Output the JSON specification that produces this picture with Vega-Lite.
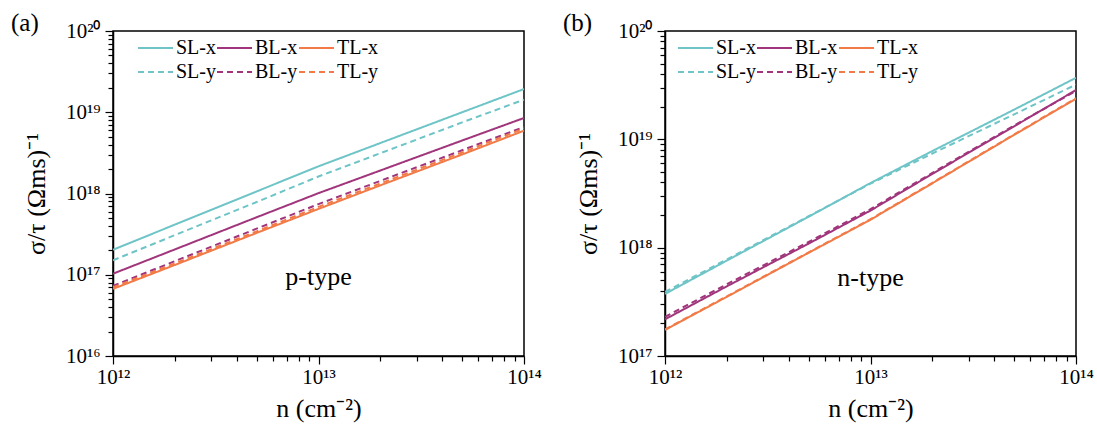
{
  "$schema": "https://vega.github.io/schema/vega-lite/v6.json",
  "autosize": {"type": "pad"},
  "padding": {"left": 10, "top": 10, "right": 5, "bottom": 3},
  "background": "white",
  "config": {
    "font": "Liberation Serif",
    "view": {"stroke": "black", "strokeWidth": 1.5},
    "axis": {
      "grid": false, "domainColor": "black", "domainWidth": 1.5,
      "tickColor": "black", "tickWidth": 1.2,
      "labelColor": "black", "titleColor": "black",
      "labelFont": "Liberation Serif", "titleFont": "Liberation Serif",
      "labelFontSize": 21, "titleFontSize": 26, "titleFontWeight": "normal",
      "labelOverlap": false, "labelFlush": false, "labelBound": false
    },
    "legend": {
      "labelFont": "Liberation Serif", "labelFontSize": 20, "labelColor": "black"
    },
    "title": {"font": "Liberation Serif", "fontSize": 25, "fontWeight": "normal", "color": "black"}
  },
  "datasets": {
    "pa": [
      {"n": 1e12, "v": 2.03e17, "s": "SL-x"}, {"n": 2e12, "v": 4.14e17, "s": "SL-x"}, {"n": 5e12, "v": 1.06e18, "s": "SL-x"}, {"n": 1e13, "v": 2.16e18, "s": "SL-x"}, {"n": 2e13, "v": 4.18e18, "s": "SL-x"}, {"n": 5e13, "v": 1.0e19, "s": "SL-x"}, {"n": 1e14, "v": 1.93e19, "s": "SL-x"},
      {"n": 1e12, "v": 1.03e17, "s": "BL-x"}, {"n": 2e12, "v": 2.05e17, "s": "BL-x"}, {"n": 5e12, "v": 5.1e17, "s": "BL-x"}, {"n": 1e13, "v": 1.01e18, "s": "BL-x"}, {"n": 2e13, "v": 1.92e18, "s": "BL-x"}, {"n": 5e13, "v": 4.49e18, "s": "BL-x"}, {"n": 1e14, "v": 8.5e18, "s": "BL-x"},
      {"n": 1e12, "v": 6.7e16, "s": "TL-x"}, {"n": 2e12, "v": 1.32e17, "s": "TL-x"}, {"n": 5e12, "v": 3.27e17, "s": "TL-x"}, {"n": 1e13, "v": 6.46e17, "s": "TL-x"}, {"n": 2e13, "v": 1.26e18, "s": "TL-x"}, {"n": 5e13, "v": 3.02e18, "s": "TL-x"}, {"n": 1e14, "v": 5.93e18, "s": "TL-x"},
      {"n": 1e12, "v": 1.51e17, "s": "SL-y"}, {"n": 2e12, "v": 3.07e17, "s": "SL-y"}, {"n": 5e12, "v": 7.85e17, "s": "SL-y"}, {"n": 1e13, "v": 1.62e18, "s": "SL-y"}, {"n": 2e13, "v": 3.13e18, "s": "SL-y"}, {"n": 5e13, "v": 7.5e18, "s": "SL-y"}, {"n": 1e14, "v": 1.43e19, "s": "SL-y"},
      {"n": 1e12, "v": 7.3e16, "s": "BL-y"}, {"n": 2e12, "v": 1.47e17, "s": "BL-y"}, {"n": 5e12, "v": 3.69e17, "s": "BL-y"}, {"n": 1e13, "v": 7.41e17, "s": "BL-y"}, {"n": 2e13, "v": 1.43e18, "s": "BL-y"}, {"n": 5e13, "v": 3.41e18, "s": "BL-y"}, {"n": 1e14, "v": 6.6e18, "s": "BL-y"},
      {"n": 1e12, "v": 7.0e16, "s": "TL-y"}, {"n": 2e12, "v": 1.38e17, "s": "TL-y"}, {"n": 5e12, "v": 3.42e17, "s": "TL-y"}, {"n": 1e13, "v": 6.84e17, "s": "TL-y"}, {"n": 2e13, "v": 1.33e18, "s": "TL-y"}, {"n": 5e13, "v": 3.2e18, "s": "TL-y"}, {"n": 1e14, "v": 6.3e18, "s": "TL-y"}
    ],
    "pb": [
      {"n": 1e12, "v": 3.74e17, "s": "SL-x"}, {"n": 2e12, "v": 7.6e17, "s": "SL-x"}, {"n": 5e12, "v": 1.93e18, "s": "SL-x"}, {"n": 1e13, "v": 3.95e18, "s": "SL-x"}, {"n": 2e13, "v": 7.8e18, "s": "SL-x"}, {"n": 5e13, "v": 1.88e19, "s": "SL-x"}, {"n": 1e14, "v": 3.7e19, "s": "SL-x"},
      {"n": 1e12, "v": 2.18e17, "s": "BL-x"}, {"n": 2e12, "v": 4.4e17, "s": "BL-x"}, {"n": 5e12, "v": 1.09e18, "s": "BL-x"}, {"n": 1e13, "v": 2.2e18, "s": "BL-x"}, {"n": 2e13, "v": 4.8e18, "s": "BL-x"}, {"n": 5e13, "v": 1.32e19, "s": "BL-x"}, {"n": 1e14, "v": 2.85e19, "s": "BL-x"},
      {"n": 1e12, "v": 1.74e17, "s": "TL-x"}, {"n": 2e12, "v": 3.52e17, "s": "TL-x"}, {"n": 5e12, "v": 8.97e17, "s": "TL-x"}, {"n": 1e13, "v": 1.81e18, "s": "TL-x"}, {"n": 2e13, "v": 3.93e18, "s": "TL-x"}, {"n": 5e13, "v": 1.1e19, "s": "TL-x"}, {"n": 1e14, "v": 2.37e19, "s": "TL-x"},
      {"n": 1e12, "v": 3.9e17, "s": "SL-y"}, {"n": 2e12, "v": 7.8e17, "s": "SL-y"}, {"n": 5e12, "v": 1.95e18, "s": "SL-y"}, {"n": 1e13, "v": 3.9e18, "s": "SL-y"}, {"n": 2e13, "v": 7.4e18, "s": "SL-y"}, {"n": 5e13, "v": 1.7e19, "s": "SL-y"}, {"n": 1e14, "v": 3.2e19, "s": "SL-y"},
      {"n": 1e12, "v": 2.3e17, "s": "BL-y"}, {"n": 2e12, "v": 4.6e17, "s": "BL-y"}, {"n": 5e12, "v": 1.13e18, "s": "BL-y"}, {"n": 1e13, "v": 2.27e18, "s": "BL-y"}, {"n": 2e13, "v": 4.9e18, "s": "BL-y"}, {"n": 5e13, "v": 1.34e19, "s": "BL-y"}, {"n": 1e14, "v": 2.8e19, "s": "BL-y"},
      {"n": 1e12, "v": 1.76e17, "s": "TL-y"}, {"n": 2e12, "v": 3.56e17, "s": "TL-y"}, {"n": 5e12, "v": 9.05e17, "s": "TL-y"}, {"n": 1e13, "v": 1.83e18, "s": "TL-y"}, {"n": 2e13, "v": 3.97e18, "s": "TL-y"}, {"n": 5e13, "v": 1.11e19, "s": "TL-y"}, {"n": 1e14, "v": 2.4e19, "s": "TL-y"}
    ],
    "ta": [{"n": 1e13, "v": 9.5e16, "t": "p-type"}],
    "tb": [{"n": 1e13, "v": 5.2e17, "t": "n-type"}]
  },
  "resolve": {
    "scale": {"x": "independent", "y": "independent", "color": "independent", "strokeDash": "independent"},
    "legend": {"color": "independent", "strokeDash": "independent"}
  },
  "bounds": "flush",
  "spacing": 141,
  "hconcat": [
    {
      "width": 411, "height": 325,
      "title": {"text": "(a)", "anchor": "start", "frame": "group", "dx": -102, "dy": 8, "offset": -28, "baseline": "alphabetic"},
      "layer": [
        {
          "data": {"name": "pa"},
          "mark": {"type": "line", "strokeWidth": 2, "clip": true},
          "encoding": {
            "x": {"field": "n", "type": "quantitative",
              "scale": {"type": "log", "domain": [1e12, 1e14], "nice": false},
              "axis": {
                "title": "n (cm⁻²)", "titlePadding": 8, "labelPadding": 2,
                "values": [1e12, 2e12, 3e12, 4e12, 5e12, 6e12, 7e12, 8e12, 9e12, 1e13, 2e13, 3e13, 4e13, 5e13, 6e13, 7e13, 8e13, 9e13, 1e14],
                "labelExpr": "abs(log(datum.value)/LN10 - round(log(datum.value)/LN10)) < 0.01 ? '10' + replace(replace(replace(replace(replace(replace(replace(replace(replace(replace(toString(round(log(datum.value)/LN10)),'0','⁰'),'1','¹'),'2','²'),'3','³'),'4','⁴'),'5','⁵'),'6','⁶'),'7','⁷'),'8','⁸'),'9','⁹') : ''",
                "tickSize": {"condition": {"test": "abs(log(datum.value)/LN10 - round(log(datum.value)/LN10)) < 0.01", "value": 8}, "value": 5}
              }},
            "y": {"field": "v", "type": "quantitative",
              "scale": {"type": "log", "domain": [1e16, 1e20], "nice": false},
              "axis": {
                "title": "σ/τ (Ωms)⁻¹", "titlePadding": 16, "labelPadding": 5,
                "values": [1e16, 2e16, 3e16, 4e16, 5e16, 6e16, 7e16, 8e16, 9e16, 1e17, 2e17, 3e17, 4e17, 5e17, 6e17, 7e17, 8e17, 9e17, 1e18, 2e18, 3e18, 4e18, 5e18, 6e18, 7e18, 8e18, 9e18, 1e19, 2e19, 3e19, 4e19, 5e19, 6e19, 7e19, 8e19, 9e19, 1e20],
                "labelExpr": "abs(log(datum.value)/LN10 - round(log(datum.value)/LN10)) < 0.01 ? '10' + replace(replace(replace(replace(replace(replace(replace(replace(replace(replace(toString(round(log(datum.value)/LN10)),'0','⁰'),'1','¹'),'2','²'),'3','³'),'4','⁴'),'5','⁵'),'6','⁶'),'7','⁷'),'8','⁸'),'9','⁹') : ''",
                "tickSize": {"condition": {"test": "abs(log(datum.value)/LN10 - round(log(datum.value)/LN10)) < 0.01", "value": 8}, "value": 5}
              }},
            "color": {"field": "s", "type": "nominal",
              "scale": {"domain": ["SL-x", "BL-x", "TL-x", "SL-y", "BL-y", "TL-y"], "range": ["#6EC4C7", "#A0357C", "#F27A46", "#6EC4C7", "#A0357C", "#F27A46"]},
              "legend": {"title": null, "orient": "none", "legendX": 24, "legendY": 5, "columns": 3, "direction": "horizontal", "symbolType": "stroke", "symbolSize": 1225, "symbolStrokeWidth": 2, "labelOffset": 2, "columnPadding": 0, "rowPadding": 0, "clipHeight": 24}},
            "strokeDash": {"field": "s", "type": "nominal",
              "scale": {"domain": ["SL-x", "BL-x", "TL-x", "SL-y", "BL-y", "TL-y"], "range": [[1, 0], [1, 0], [1, 0], [6, 4], [6, 4], [6, 4]]},
              "legend": {"title": null, "orient": "none", "legendX": 24, "legendY": 5, "columns": 3, "direction": "horizontal", "symbolType": "stroke", "symbolSize": 1225, "symbolStrokeWidth": 2, "labelOffset": 2, "columnPadding": 0, "rowPadding": 0, "clipHeight": 24}}
          }
        },
        {
          "data": {"name": "ta"},
          "mark": {"type": "text", "fontSize": 26, "font": "Liberation Serif", "color": "black", "baseline": "middle"},
          "encoding": {
            "x": {"field": "n", "type": "quantitative"},
            "y": {"field": "v", "type": "quantitative"},
            "text": {"field": "t"}
          }
        }
      ]
    },
    {
      "width": 411, "height": 325,
      "title": {"text": "(b)", "anchor": "start", "frame": "group", "dx": -102, "dy": 8, "offset": -28, "baseline": "alphabetic"},
      "layer": [
        {
          "data": {"name": "pb"},
          "mark": {"type": "line", "strokeWidth": 2, "clip": true},
          "encoding": {
            "x": {"field": "n", "type": "quantitative",
              "scale": {"type": "log", "domain": [1e12, 1e14], "nice": false},
              "axis": {
                "title": "n (cm⁻²)", "titlePadding": 8, "labelPadding": 2,
                "values": [1e12, 2e12, 3e12, 4e12, 5e12, 6e12, 7e12, 8e12, 9e12, 1e13, 2e13, 3e13, 4e13, 5e13, 6e13, 7e13, 8e13, 9e13, 1e14],
                "labelExpr": "abs(log(datum.value)/LN10 - round(log(datum.value)/LN10)) < 0.01 ? '10' + replace(replace(replace(replace(replace(replace(replace(replace(replace(replace(toString(round(log(datum.value)/LN10)),'0','⁰'),'1','¹'),'2','²'),'3','³'),'4','⁴'),'5','⁵'),'6','⁶'),'7','⁷'),'8','⁸'),'9','⁹') : ''",
                "tickSize": {"condition": {"test": "abs(log(datum.value)/LN10 - round(log(datum.value)/LN10)) < 0.01", "value": 8}, "value": 5}
              }},
            "y": {"field": "v", "type": "quantitative",
              "scale": {"type": "log", "domain": [1e17, 1e20], "nice": false},
              "axis": {
                "title": "σ/τ (Ωms)⁻¹", "titlePadding": 16, "labelPadding": 5,
                "values": [1e17, 2e17, 3e17, 4e17, 5e17, 6e17, 7e17, 8e17, 9e17, 1e18, 2e18, 3e18, 4e18, 5e18, 6e18, 7e18, 8e18, 9e18, 1e19, 2e19, 3e19, 4e19, 5e19, 6e19, 7e19, 8e19, 9e19, 1e20],
                "labelExpr": "abs(log(datum.value)/LN10 - round(log(datum.value)/LN10)) < 0.01 ? '10' + replace(replace(replace(replace(replace(replace(replace(replace(replace(replace(toString(round(log(datum.value)/LN10)),'0','⁰'),'1','¹'),'2','²'),'3','³'),'4','⁴'),'5','⁵'),'6','⁶'),'7','⁷'),'8','⁸'),'9','⁹') : ''",
                "tickSize": {"condition": {"test": "abs(log(datum.value)/LN10 - round(log(datum.value)/LN10)) < 0.01", "value": 8}, "value": 5}
              }},
            "color": {"field": "s", "type": "nominal",
              "scale": {"domain": ["SL-x", "BL-x", "TL-x", "SL-y", "BL-y", "TL-y"], "range": ["#6EC4C7", "#A0357C", "#F27A46", "#6EC4C7", "#A0357C", "#F27A46"]},
              "legend": {"title": null, "orient": "none", "legendX": 12, "legendY": 5, "columns": 3, "direction": "horizontal", "symbolType": "stroke", "symbolSize": 1225, "symbolStrokeWidth": 2, "labelOffset": 2, "columnPadding": 0, "rowPadding": 0, "clipHeight": 24}},
            "strokeDash": {"field": "s", "type": "nominal",
              "scale": {"domain": ["SL-x", "BL-x", "TL-x", "SL-y", "BL-y", "TL-y"], "range": [[1, 0], [1, 0], [1, 0], [6, 4], [6, 4], [6, 4]]},
              "legend": {"title": null, "orient": "none", "legendX": 12, "legendY": 5, "columns": 3, "direction": "horizontal", "symbolType": "stroke", "symbolSize": 1225, "symbolStrokeWidth": 2, "labelOffset": 2, "columnPadding": 0, "rowPadding": 0, "clipHeight": 24}}
          }
        },
        {
          "data": {"name": "tb"},
          "mark": {"type": "text", "fontSize": 26, "font": "Liberation Serif", "color": "black", "baseline": "middle"},
          "encoding": {
            "x": {"field": "n", "type": "quantitative"},
            "y": {"field": "v", "type": "quantitative"},
            "text": {"field": "t"}
          }
        }
      ]
    }
  ]
}
